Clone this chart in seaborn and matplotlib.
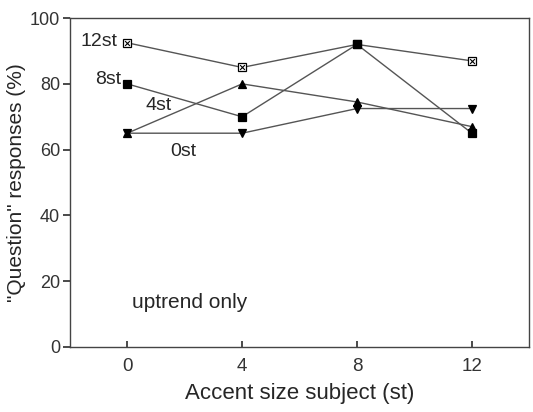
import matplotlib
matplotlib.use("Agg")
import matplotlib.pyplot as plt
import seaborn as sns
import pandas as pd

accent = [0, 4, 8, 12]
s12 = [92.5, 85, 92, 87]
s8 = [80, 70, 92, 65]
s4 = [65, 80, 74.5, 67]
s0 = [65, 65, 72.5, 72.5]
labels = ["12st", "8st", "4st", "0st"]

sns.set_theme(style="white")
plt.rcParams['font.family'] = ['Liberation Sans', 'DejaVu Sans']

fig = plt.figure(figsize=(5.33, 4.12), dpi=100)
ax = fig.add_axes([0.131, 0.158, 0.862, 0.798])

lc = "#555555"
series = [(s12, "s", "white"), (s8, "s", "black"), (s4, "^", "black"), (s0, "v", "black")]
for vals, mk, fc in series:
    df = pd.DataFrame({"x": accent, "y": vals})
    sns.lineplot(data=df, x="x", y="y", ax=ax, color=lc, lw=1.0,
                 marker=mk, markersize=5.5, markerfacecolor=fc,
                 markeredgecolor="black", markeredgewidth=0.9)
df12 = pd.DataFrame({"x": accent, "y": s12})
sns.scatterplot(data=df12, x="x", y="y", ax=ax, marker="x", s=12,
                color="black", linewidth=0.8, zorder=5)

ax.text(-1.0, 92.8, labels[0], ha="center", va="center", fontsize=14)
ax.text(-0.65, 81.3, labels[1], ha="center", va="center", fontsize=14)
ax.text(1.1, 73.5, labels[2], ha="center", va="center", fontsize=14)
ax.text(1.95, 59.5, labels[3], ha="center", va="center", fontsize=14)
ax.text(0.15, 13.5, "uptrend only", ha="left", va="center", fontsize=15)

ax.set_xlim(-2, 14)
ax.set_ylim(0, 100)
ax.set_xticks([0, 4, 8, 12])
ax.set_yticks([0, 20, 40, 60, 80, 100])
ax.set_xlabel("Accent size subject (st)", fontsize=16, labelpad=6)
ax.set_ylabel("\"Question\" responses (%)", fontsize=15, labelpad=3)
ax.tick_params(axis="x", direction="in", length=4, labelsize=13.5, pad=8, colors="#333333")
ax.tick_params(axis="y", direction="out", length=5, labelsize=13, pad=2, left=True, colors="#333333")
ax.tick_params(axis="x", bottom=True)
for sp in ax.spines.values():
    sp.set_color("#444444")
    sp.set_linewidth(1.0)

fig.savefig("out.png", dpi=100)
